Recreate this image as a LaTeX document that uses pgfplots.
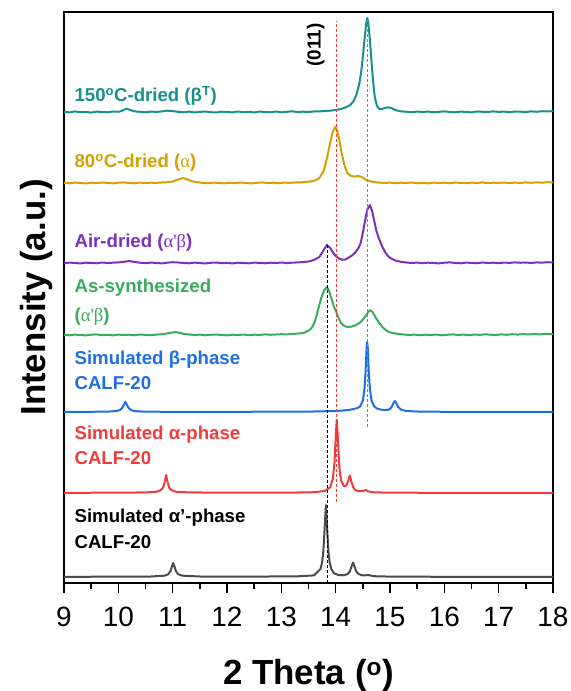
\documentclass[border=0pt]{standalone}
\usepackage{fontspec}
\setmainfont{Liberation Sans}
\newfontfamily\gr{Liberation Serif}
\usepackage{pgfplots}
\pgfplotsset{compat=1.18}
\definecolor{cTeal}{RGB}{22,145,140}
\definecolor{cGold}{RGB}{214,160,0}
\definecolor{cPurple}{RGB}{125,48,190}
\definecolor{cGreen}{RGB}{58,172,95}
\definecolor{cBlue}{RGB}{30,110,230}
\definecolor{cRed}{RGB}{240,60,60}
\definecolor{cGray}{RGB}{75,75,75}
\begin{document}
\begin{tikzpicture}
\path[use as bounding box] (0,0) rectangle (571bp,691bp);
\begin{axis}[
  at={(64bp,108bp)}, anchor=south west,
  scale only axis, width=489bp, height=571bp,
  xmin=9, xmax=18, ymin=-3, ymax=568,
  axis line style={line width=1.6bp},
  xtick={9,10,...,18}, minor x tick num=1,
  ytick=\empty,
  tick align=outside, xtick pos=lower,
  major tick length=10bp, minor tick length=6bp,
  every tick/.style={black, line width=1.4bp},
  ticklabel style={font=\fontsize{28}{28}\selectfont},
  xticklabel style={anchor=north, inner sep=0pt, yshift=-14bp},
  /pgf/number format/assume math mode=true,
  xlabel={2 Theta (\textsuperscript{o})},
  ylabel={Intensity (a.u.)},
  label style={font=\bfseries\fontsize{35}{35}\selectfont},
  x label style={at={(axis description cs:0.5,0)}, anchor=center, yshift=-92bp},
  y label style={at={(axis description cs:0,0.5)}, anchor=center, yshift=28bp},
  every axis plot/.append style={line width=2bp, line join=round},
  clip=false,
]
% 150C-dried (teal), baseline 468
\addplot[cTeal] table[y expr=\thisrowno{1}+468] {
9.0 0.3
9.1 -0.4
9.2 0.6
9.3 -0.2
9.4 0.1
9.5 -0.6
9.6 0.4
9.7 0.0
9.8 -0.3
9.9 0.5
10.0 0.2
10.05 0.8
10.1 2.2
10.16 3.2
10.22 2.0
10.3 0.6
10.4 0.2
10.5 -0.3
10.6 0.4
10.7 0.0
10.8 0.6
10.9 1.3
11.0 0.9
11.1 0.2
11.2 -0.3
11.3 0.4
11.4 -0.5
11.5 0.1
11.6 0.5
11.7 -0.2
11.8 -0.5
11.9 0.3
12.0 0.0
12.1 -0.4
12.2 0.5
12.3 -0.2
12.4 0.2
12.5 -0.5
12.6 0.4
12.7 0.0
12.8 -0.3
12.9 0.5
13.0 -0.4
13.1 0.2
13.2 0.7
13.3 -0.1
13.4 0.3
13.5 0.0
13.6 0.5
13.7 0.6
13.8 1.0
13.9 1.3
14.0 2.0
14.1 3.0
14.2 5.0
14.27 7
14.33 11
14.38 17
14.43 27
14.47 40
14.50 55
14.53 72
14.56 88
14.58 94
14.60 90
14.63 72
14.66 50
14.69 30
14.72 15
14.76 6
14.80 3.2
14.85 3.0
14.9 3.8
14.95 4.6
15.0 4.4
15.05 3.2
15.1 2.0
15.15 1.2
15.2 0.6
15.3 0.3
15.4 -0.2
15.5 0.4
15.6 0.0
15.7 0.5
15.8 -0.3
15.9 0.2
16.0 0.6
16.1 0.0
16.2 -0.3
16.3 0.4
16.4 0.1
16.5 -0.4
16.6 0.5
16.7 0.2
16.8 0.0
16.9 0.6
17.0 0.1
17.1 0.4
17.2 -0.2
17.3 0.5
17.4 0.3
17.5 0.0
17.6 0.6
17.7 0.2
17.8 0.8
17.9 0.5
18.0 0.9
};
% 80C-dried (gold), baseline 397
\addplot[cGold] table[y expr=\thisrowno{1}+397] {
9.0 0.2
9.1 -0.3
9.2 0.4
9.3 0.0
9.4 -0.5
9.5 0.3
9.6 -0.2
9.7 0.5
9.8 0.1
9.9 -0.4
10.0 0.3
10.1 0.6
10.2 0.0
10.3 -0.3
10.4 0.4
10.5 -0.1
10.6 0.3
10.7 0.1
10.8 0.5
10.9 0.8
11.0 1.5
11.1 3.5
11.19 5.0
11.28 3.4
11.35 1.8
11.45 0.8
11.55 0.2
11.65 -0.3
11.75 0.4
11.85 0.0
11.95 -0.4
12.05 0.3
12.15 -0.2
12.25 0.5
12.35 0.0
12.45 -0.5
12.55 0.2
12.65 0.6
12.75 -0.1
12.85 0.3
12.95 -0.3
13.05 0.4
13.15 0.1
13.25 0.5
13.35 0.6
13.45 1.0
13.55 1.6
13.62 2.5
13.7 5
13.78 12
13.84 25
13.89 38
13.94 50
13.99 56
14.03 52
14.07 42
14.11 30
14.16 18
14.21 10
14.28 7
14.35 6.5
14.42 7
14.48 6
14.55 3.5
14.62 2
14.7 1.0
14.8 0.4
14.9 0.0
15.0 0.4
15.1 -0.2
15.2 0.3
15.3 0.0
15.4 0.5
15.5 -0.3
15.6 0.2
15.7 -0.4
15.8 0.4
15.9 0.0
16.0 0.3
16.1 -0.3
16.2 0.5
16.3 0.1
16.4 -0.2
16.5 0.4
16.6 0.0
16.7 0.6
16.8 -0.2
16.9 0.3
17.0 0.1
17.1 0.5
17.2 -0.1
17.3 0.4
17.4 0.0
17.5 0.6
17.6 0.2
17.7 0.7
17.8 0.3
17.9 0.8
18.0 0.6
};
% Air-dried (purple), baseline 317
\addplot[cPurple] table[y expr=\thisrowno{1}+317] {
9.0 -0.3
9.1 0.4
9.2 0.0
9.3 -0.4
9.4 0.3
9.5 0.1
9.6 -0.3
9.7 0.5
9.8 0.0
9.9 0.3
10.0 0.6
10.1 1.2
10.2 2.0
10.3 1.0
10.4 0.3
10.5 -0.2
10.6 0.4
10.7 0.0
10.8 -0.4
10.9 0.3
11.0 0.8
11.1 0.5
11.2 0.0
11.3 -0.3
11.4 0.4
11.5 0.0
11.6 -0.5
11.7 0.2
11.8 0.5
11.9 -0.2
12.0 0.1
12.1 -0.4
12.2 0.3
12.3 0.0
12.4 -0.3
12.5 0.4
12.6 0.1
12.7 -0.3
12.8 0.3
12.9 0.0
13.0 0.5
13.1 -0.1
13.2 0.3
13.3 0.6
13.4 0.9
13.5 1.5
13.6 3.0
13.7 6.0
13.78 13
13.84 18
13.9 15
13.95 10.5
14.0 7
14.06 4.5
14.12 3.2
14.18 3.5
14.24 5.5
14.3 7.5
14.36 10.5
14.42 15
14.46 20
14.5 30
14.54 42
14.58 53
14.63 58
14.67 52
14.71 42
14.75 32
14.8 24
14.86 16
14.92 10
14.98 6
15.04 4
15.1 2.5
15.2 1.2
15.3 0.5
15.4 0.0
15.5 0.4
15.6 -0.2
15.7 0.3
15.8 0.0
15.9 -0.4
16.0 0.3
16.1 0.6
16.2 0.0
16.3 -0.3
16.4 0.4
16.5 0.1
16.6 -0.2
16.7 0.5
16.8 0.0
16.9 0.3
17.0 -0.2
17.1 0.4
17.2 0.1
17.3 0.6
17.4 0.2
17.5 0.5
17.6 0.0
17.7 0.6
17.8 0.3
17.9 0.8
18.0 0.5
};
% As-synthesized (green), baseline 245
\addplot[cGreen] table[y expr=\thisrowno{1}+245] {
9.0 0.2
9.1 -0.3
9.2 0.4
9.3 0.0
9.4 -0.4
9.5 0.3
9.6 0.6
9.7 -0.1
9.8 0.2
9.9 -0.4
10.0 0.4
10.1 0.0
10.2 0.3
10.3 -0.3
10.4 0.5
10.5 0.1
10.6 -0.2
10.7 0.4
10.8 0.8
10.9 1.6
11.0 2.6
11.05 3.0
11.12 2.2
11.2 1.2
11.3 0.5
11.4 0.0
11.5 0.4
11.6 -0.3
11.7 0.2
11.8 0.5
11.9 0.0
12.0 -0.4
12.1 0.3
12.2 0.0
12.3 0.5
12.4 -0.2
12.5 0.3
12.6 0.1
12.7 0.6
12.8 0.2
12.9 0.5
13.0 0.8
13.1 0.6
13.2 1.0
13.3 1.4
13.4 2.0
13.45 3
13.52 5
13.57 8
13.62 14
13.66 22
13.7 30
13.74 38
13.79 45
13.84 48
13.88 44
13.93 35
13.97 28
14.02 22
14.06 16
14.1 12
14.16 9
14.22 8
14.3 8.5
14.38 10
14.46 13
14.54 18
14.6 23
14.64 25
14.68 23
14.73 18
14.79 13
14.86 8
14.92 5
14.98 3
15.05 2
15.15 1.0
15.25 0.5
15.35 0.0
15.45 0.4
15.55 -0.2
15.65 0.3
15.75 0.0
15.85 0.5
15.95 -0.3
16.05 0.2
16.15 0.6
16.25 0.0
16.35 0.4
16.45 -0.2
16.55 0.5
16.65 0.1
16.75 0.7
16.85 0.3
16.95 0.0
17.05 0.6
17.15 0.2
17.25 0.8
17.35 0.4
17.45 0.9
17.55 0.5
17.65 1.0
17.75 0.6
17.85 1.1
17.95 0.8
18.0 1.0
};
% Simulated beta (blue), baseline 168
\addplot[cBlue] table[y expr=\thisrowno{1}+168] {
9.0 0.1
9.5 0.2
9.8 0.4
9.95 0.9
10.03 2.0
10.07 4.0
10.10 7.0
10.13 10
10.16 7.0
10.19 4.0
10.23 2.0
10.3 0.9
10.5 0.3
11 0.2
12 0.2
13 0.3
13.6 0.5
14.0 1.0
14.2 1.8
14.3 2.6
14.4 4.0
14.45 5.5
14.5 11.3
14.53 23
14.55 40
14.57 64.7
14.58 70
14.59 64.7
14.61 40
14.63 23
14.66 11.3
14.71 5.5
14.76 3.5
14.85 2.2
14.95 2.0
15.0 3.0
15.03 5.0
15.06 8.5
15.09 11
15.12 8.5
15.15 5.0
15.2 2.5
15.3 1.0
15.5 0.5
16 0.2
17 0.1
18 0.1
};
% Simulated alpha (red), baseline 87
\addplot[cRed] table[y expr=\thisrowno{1}+87] {
9.0 0.2
10 0.3
10.5 0.6
10.7 1.2
10.78 2.8
10.82 5
10.85 10
10.88 18
10.91 10
10.94 5
10.98 2.8
11.05 1.3
11.3 0.6
12 0.3
13 0.4
13.3 0.5
13.6 0.8
13.8 2.0
13.9 5.7
13.95 14.6
13.98 31.6
14.00 55
14.02 73
14.04 55.5
14.06 32.2
14.08 19.3
14.10 12.6
14.15 6.8
14.20 7.6
14.23 12.2
14.26 17.5
14.29 11.4
14.32 5.9
14.36 3.0
14.42 1.8
14.50 1.8
14.55 3.0
14.60 1.6
14.70 0.7
15.0 0.3
16 0.2
18 0.1
};
% Simulated alpha' (gray), baseline 3
\addplot[cGray] table[y expr=\thisrowno{1}+3] {
9.0 0.2
10 0.3
10.6 0.5
10.85 1.3
10.92 2.8
10.96 6
10.99 11
11.01 14
11.03 11
11.06 6
11.10 2.8
11.18 1.3
11.5 0.5
12.5 0.4
13.3 0.7
13.6 1.6
13.72 7.9
13.75 14.4
13.77 23.7
13.79 41.5
13.82 72
13.85 41.5
13.87 23.7
13.89 14.4
13.92 7.9
13.97 3.7
14.05 2.0
14.15 1.7
14.22 2.95
14.26 5.5
14.29 10.1
14.32 14.4
14.35 10.1
14.38 5.4
14.42 3.0
14.5 1.5
14.6 2.0
14.7 0.8
15 0.4
16 0.2
18 0.1
};
% dashed guide lines
\addplot[black, line width=0.9bp, dash pattern=on 3bp off 2bp] coordinates {(13.84,-3) (13.84,337)};
\addplot[cRed, line width=0.9bp, dash pattern=on 3bp off 2bp] coordinates {(14.02,78) (14.02,559)};
\addplot[cBlue!80, line width=0.9bp, dash pattern=on 3bp off 2bp] coordinates {(14.58,153) (14.58,560)};
% labels
\node[rotate=90, font=\bfseries\fontsize{19}{19}\selectfont] at (axis cs:13.635,535) {(011)};
\def\lf{\bfseries\fontsize{18.7}{18.7}\selectfont}
\node[anchor=west, text=cTeal, font=\lf] at (axis cs:9.13,484) {150\textsuperscript{o}C-dried (β\textsuperscript{T})};
\node[anchor=west, text=cGold, font=\lf] at (axis cs:9.13,417) {80\textsuperscript{o}C-dried ({\gr\mdseries α})};
\node[anchor=west, text=cPurple, font=\lf] at (axis cs:9.13,337) {Air-dried ({\gr\mdseries α'β})};
\node[anchor=west, text=cGreen, font=\lf] at (axis cs:9.13,292) {As-synthesized};
\node[anchor=west, text=cGreen, font=\lf] at (axis cs:9.13,263) {({\gr\mdseries α'β})};
\node[anchor=west, text=cBlue, font=\lf] at (axis cs:9.13,220) {Simulated β-phase};
\node[anchor=west, text=cBlue, font=\lf] at (axis cs:9.13,197) {CALF-20};
\node[anchor=west, text=cRed, font=\lf] at (axis cs:9.13,145) {Simulated α-phase};
\node[anchor=west, text=cRed, font=\lf] at (axis cs:9.13,122) {CALF-20};
\node[anchor=west, text=black, font=\lf] at (axis cs:9.13,62) {Simulated α'-phase};
\node[anchor=west, text=black, font=\lf] at (axis cs:9.13,38) {CALF-20};
\end{axis}
\end{tikzpicture}
\end{document}
